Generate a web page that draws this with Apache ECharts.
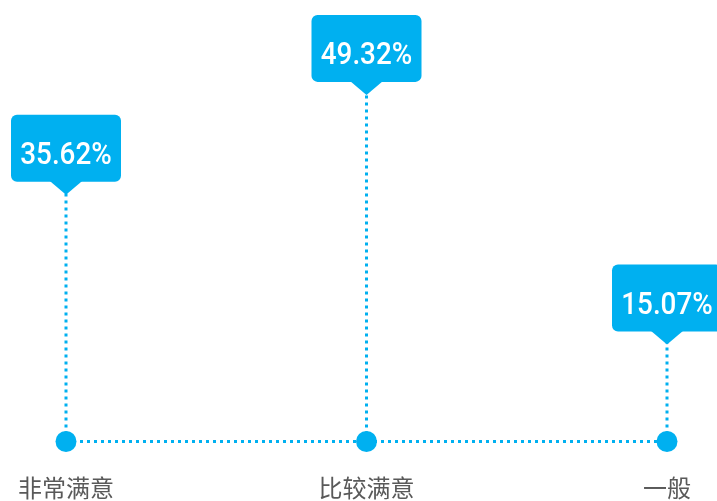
<!DOCTYPE html>
<html>
<head>
<meta charset="utf-8">
<style>
  html, body { margin: 0; padding: 0; background: #ffffff; }
  #chart { width: 717px; height: 501px; }
</style>
<script src="https://cdn.jsdelivr.net/npm/echarts@6/dist/echarts.min.js"></script>
</head>
<body>
<div id="chart"></div>
<script>
// Satisfaction survey shares (percent)
const categories = ['非常满意', '比较满意', '一般'];
const shares = [35.62, 49.32, 15.07];

const BLUE = '#00b0f0';

const chart = echarts.init(document.getElementById('chart'));

// Each item: a dotted stem from the baseline to the value, topped by a callout box
function renderCallout(params, api) {
  const idx = api.value(0);
  const val = api.value(1);
  const top = api.coord([idx, val]);
  const base = api.coord([idx, 0]);
  const x = top[0];
  const y = top[1];
  const boxW = 110, boxH = 67, tipW = 16.5, tipH = 13;
  return {
    type: 'group',
    children: [
      {
        type: 'line',
        shape: { x1: x, y1: base[1], x2: x, y2: y },
        style: { stroke: BLUE, lineWidth: 3, lineDash: [3, 4] }
      },
      {
        type: 'polygon',
        shape: { points: [[x - tipW, y - 1], [x, y + tipH], [x + tipW, y - 1]] },
        style: { fill: BLUE }
      },
      {
        type: 'rect',
        shape: { x: x - boxW / 2, y: y - boxH, width: boxW, height: boxH, r: 6 },
        style: { fill: BLUE }
      },
      {
        type: 'text',
        x: x,
        y: y - boxH / 2 + 8,
        scaleX: 0.87,
        style: {
          text: val.toFixed(2) + '%',
          fill: '#ffffff',
          font: '500 32px Roboto, "Liberation Sans", sans-serif',
          align: 'center',
          verticalAlign: 'middle'
        }
      }
    ]
  };
}

chart.setOption({
  animation: false,
  grid: { left: 66, right: 50, top: 4, bottom: 59.5 },
  xAxis: {
    type: 'category',
    data: categories,
    boundaryGap: false,
    axisLine: { show: false },
    axisTick: { show: false },
    axisLabel: {
      margin: 34,
      fontSize: 24,
      color: '#595959',
      fontFamily: '"Noto Sans CJK SC", sans-serif'
    }
  },
  yAxis: {
    type: 'value',
    min: 0,
    max: 60,
    show: false,
    splitLine: { show: false }
  },
  series: [
    {
      type: 'custom',
      renderItem: renderCallout,
      data: shares.map((v, i) => [i, v]),
      z: 3
    },
    {
      // dotted baseline joining the category dots
      type: 'line',
      data: shares.map(() => 0),
      symbol: 'circle',
      symbolSize: 21,
      showSymbol: true,
      itemStyle: { color: BLUE, opacity: 1 },
      lineStyle: { color: BLUE, width: 3, type: [3, 4] },
      z: 4
    }
  ]
});
</script>
</body>
</html>
